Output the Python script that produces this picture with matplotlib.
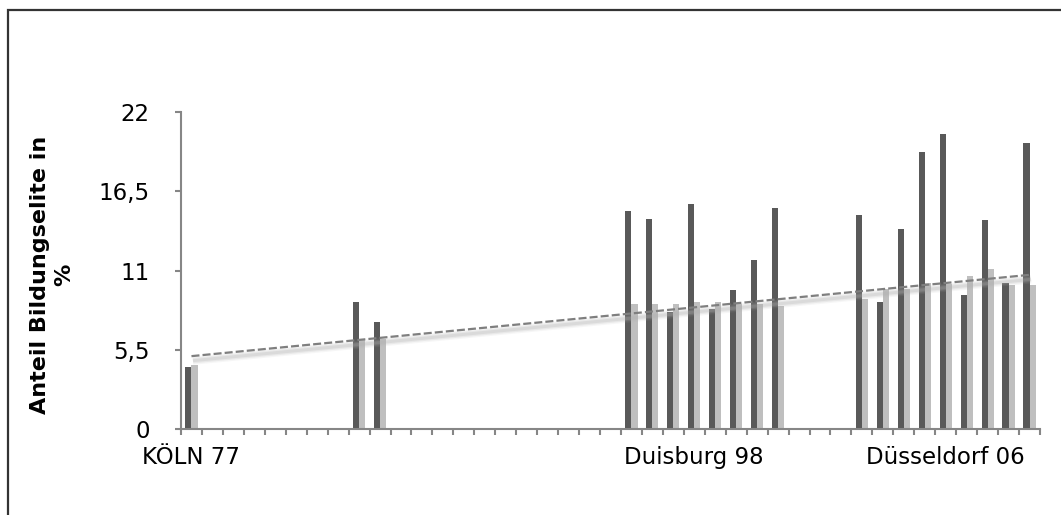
import numpy as np
import matplotlib
matplotlib.use("Agg")
import matplotlib.pyplot as plt
from matplotlib.patches import Rectangle
import matplotlib.transforms as mtransforms

# ---- data ----
n_categories = 41
category_labels = [""] * n_categories
category_labels[0] = "KÖLN 77"
category_labels[24] = "Duisburg 98"
category_labels[36] = "Düsseldorf 06"

data_categories = [0, 8, 9, 21, 22, 23, 24, 25, 26, 27, 28,
                   32, 33, 34, 35, 36, 37, 38, 39, 40]
dark_values = [4.3, 8.8, 7.4, 15.1, 14.6, 8.1, 15.6, 8.3, 9.65, 11.7, 15.3,
               14.85, 8.8, 13.9, 19.2, 20.45, 9.3, 14.5, 10.15, 19.85]
light_values = [4.45, 6.2, 6.25, 8.7, 8.7, 8.7, 8.8, 8.8, 8.7, 8.7, 8.55,
                9.0, 9.75, 9.75, 10.1, 10.05, 10.65, 11.1, 10.0, 10.0]

y_ticks = [0, 5.5, 11, 16.5, 22]
y_tick_labels = ["0", "5,5", "11", "16,5", "22"]
y_label = "Anteil Bildungselite in\n%"

# ---- figure ----
W, H = 1061, 515
fig = plt.figure(figsize=(W / 100, H / 100), dpi=100)
ax = fig.add_axes([181 / W, 1 - 429.3 / H, (1040 - 181) / W, (429.3 - 111.7) / H])

x = np.array(data_categories, dtype=float)
bw = 0.29
ax.bar(x - bw / 2, dark_values, width=bw, color="#595959", linewidth=0, zorder=2)
ax.bar(x + bw / 2, light_values, width=bw, color="#bfbfbf", linewidth=0, zorder=2)

# linear trend of the light series (with soft shadow)
coef = np.polyfit(x, np.array(light_values), 1)
xt = np.array([x.min(), x.max()])
yt = np.polyval(coef, xt)
shadow = mtransforms.offset_copy(ax.transData, fig=fig, x=1.5, y=-4.5, units="dots")
for lw, a in [(6, 0.10), (4, 0.18), (2.2, 0.25)]:
    ax.plot(xt, yt, color="#b0b0b0", lw=lw, alpha=a, solid_capstyle="butt",
            transform=shadow, zorder=3)
ax.plot(xt, yt, color="#7f7f7f", lw=1.6, ls=(0, (3.6, 1.4)), zorder=4)

ax.set_xlim(-0.5, n_categories - 0.5)
ax.set_ylim(0, 22)

for s in ["top", "right"]:
    ax.spines[s].set_visible(False)
for s in ["left", "bottom"]:
    ax.spines[s].set_color("#868686")
    ax.spines[s].set_linewidth(1.5)

ax.set_yticks(y_ticks)
ax.set_yticklabels(y_tick_labels)
ax.tick_params(axis="y", direction="out", length=4.5, width=1.5, color="#868686",
               pad=18, labelsize=16.5, labelcolor="#000000")

ax.set_xticks(np.arange(-0.5, n_categories, 1.0))
ax.set_xticklabels([])
ax.tick_params(axis="x", which="major", direction="out", length=4.5, width=1.5,
               color="#868686")
ax.set_xticks(np.arange(n_categories), minor=True)
ax.set_xticklabels(category_labels, minor=True)
ax.tick_params(axis="x", which="minor", length=0, pad=12, labelsize=16.5,
               labelcolor="#000000")

fig.text(52 / W, 1 - 275 / H, y_label, rotation=90, ha="center", va="center",
         multialignment="center", fontsize=16, fontweight="bold", linespacing=1.3)

# outer chart frame
frame = Rectangle((7.5 / W, -0.1), 1.2, 1 - 10 / H + 0.1, transform=fig.transFigure,
                  fill=False, edgecolor="#333333", linewidth=1.6, clip_on=False)
fig.patches.append(frame)

fig.savefig("out.png", dpi=100)
